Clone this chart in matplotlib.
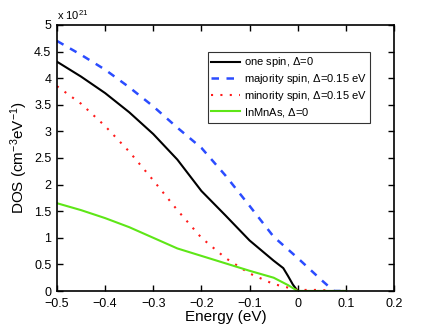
import matplotlib
matplotlib.use("Agg")
import matplotlib.pyplot as plt
import numpy as np

plt.rcParams['font.family'] = ['Liberation Sans', 'DejaVu Sans']
plt.rcParams['mathtext.fontset'] = 'custom'
plt.rcParams['mathtext.rm'] = 'Liberation Sans'
plt.rcParams['mathtext.it'] = 'Liberation Sans:italic'

# energies (eV) and DOS values (units of 1e21 cm^-3 eV^-1)
e_one = [-0.5, -0.45, -0.4, -0.35, -0.3, -0.25, -0.2, -0.15, -0.1, -0.05, -0.03, -0.02, -0.01, 0.0, 0.1]
dos_one = [4.31, 4.03, 3.72, 3.36, 2.95, 2.47, 1.88, 1.42, 0.95, 0.57, 0.43, 0.28, 0.12, 0.0, 0.0]

e_maj = [-0.5, -0.45, -0.4, -0.35, -0.3, -0.25, -0.2, -0.15, -0.1, -0.05, 0.0, 0.05, 0.075, 0.1]
dos_maj = [4.70, 4.44, 4.16, 3.83, 3.47, 3.07, 2.69, 2.17, 1.60, 1.02, 0.62, 0.20, 0.0, 0.0]

e_min = [-0.5, -0.45, -0.4, -0.35, -0.3, -0.25, -0.2, -0.15, -0.1, -0.05, 0.0, 0.05, 0.07, 0.1]
dos_min = [3.85, 3.52, 3.10, 2.62, 2.08, 1.52, 1.00, 0.62, 0.33, 0.13, 0.02, 0.02, 0.0, 0.0]

e_inmnas = [-0.5, -0.45, -0.4, -0.35, -0.3, -0.25, -0.2, -0.15, -0.1, -0.05, -0.02, 0.0, 0.1]
dos_inmnas = [1.65, 1.52, 1.37, 1.20, 1.00, 0.80, 0.66, 0.52, 0.38, 0.25, 0.11, 0.0, 0.0]

labels = ['one spin, $\\Delta$=0', 'majority spin, $\\Delta$=0.15 eV',
          'minority spin, $\\Delta$=0.15 eV', 'InMnAs, $\\Delta$=0']

fig = plt.figure(figsize=(4.36, 3.28), dpi=100)
ax = fig.add_axes([0.1307, 0.1128, 0.773, 0.811])

ax.plot(e_one, dos_one, '-', color='black', lw=1.5, label=labels[0])
ax.plot(e_maj, dos_maj, '--', color='#2b4cff', lw=1.8, dashes=(3, 3), label=labels[1])
ax.plot(e_min, dos_min, ':', color='#ff1a1a', lw=1.5, dashes=(1, 3.5), label=labels[2])
ax.plot(e_inmnas, dos_inmnas, '-', color='#5ee617', lw=1.5, label=labels[3])

ax.set_xlim(-0.5, 0.2)
ax.set_ylim(0, 5)
ax.set_xticks(np.arange(-0.5, 0.21, 0.1))
ax.set_xticklabels(['\u22120.5', '\u22120.4', '\u22120.3', '\u22120.2', '\u22120.1', '0', '0.1', '0.2'])
ax.set_yticks(np.arange(0, 5.01, 0.5))
ax.set_yticklabels(['0', '0.5', '1', '1.5', '2', '2.5', '3', '3.5', '4', '4.5', '5'])
ax.tick_params(direction='in', top=True, right=True, length=4, width=1, labelsize=9)
ax.tick_params(axis='x', pad=5)
ax.tick_params(axis='y', pad=4)
for s in ax.spines.values():
    s.set_linewidth(1.2)

ax.set_xlabel('Energy (eV)', fontsize=11, labelpad=0)
ax.set_ylabel('DOS (cm$^{-3}$eV$^{-1}$)', fontsize=11, labelpad=3)
ax.text(0.0, 1.01, 'x 10$^{21}$', transform=ax.transAxes, fontsize=8, va='bottom', ha='left')

leg = ax.legend(loc='upper right', bbox_to_anchor=(0.93, 0.90), fontsize=8,
                frameon=True, fancybox=False, edgecolor='black', handlelength=2.6,
                handletextpad=0.3, borderpad=0.35, labelspacing=0.25, borderaxespad=0)
leg.get_frame().set_linewidth(0.8)

fig.savefig('out.png', dpi=100)
